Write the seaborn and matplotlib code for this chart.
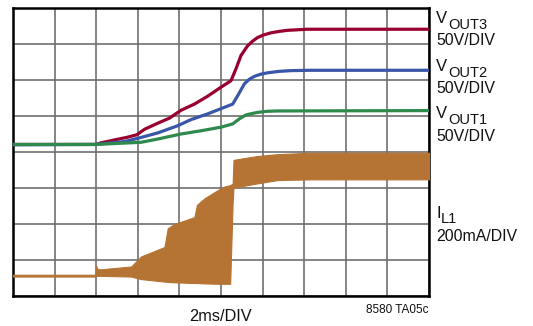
import numpy as np
import pandas as pd
import matplotlib
matplotlib.use("Agg")
import matplotlib.pyplot as plt
import seaborn as sns
from matplotlib import font_manager

# ---------------- data (divisions) ----------------
t_v3 = [0, 2.0, 2.1, 2.5, 2.75, 2.98, 3.16, 3.48, 3.76, 4.04, 4.36, 4.68, 5.0, 5.24, 5.36, 5.48, 5.64, 5.76, 5.88, 6.02, 6.2, 6.4, 6.6, 7.08, 10]
v3 = [4.21, 4.21, 4.25, 4.35, 4.41, 4.48, 4.63, 4.8, 4.94, 5.16, 5.33, 5.55, 5.8, 5.98, 6.31, 6.68, 6.95, 7.08, 7.18, 7.25, 7.31, 7.35, 7.38, 7.41, 7.41]

t_v2 = [0, 2.0, 2.68, 3.0, 3.48, 3.96, 4.28, 4.68, 5.08, 5.28, 5.4, 5.56, 5.68, 5.8, 5.95, 6.12, 6.4, 6.68, 7.16, 10]
v2 = [4.2, 4.21, 4.29, 4.38, 4.53, 4.73, 4.9, 5.06, 5.24, 5.33, 5.56, 5.89, 6.02, 6.1, 6.16, 6.2, 6.24, 6.26, 6.27, 6.27]

t_v1 = [0, 2.0, 3.08, 3.48, 4.04, 4.52, 5.0, 5.28, 5.44, 5.6, 5.75, 5.88, 6.1, 6.36, 10]
v1 = [4.21, 4.21, 4.27, 4.36, 4.5, 4.59, 4.69, 4.78, 4.92, 5.03, 5.07, 5.1, 5.13, 5.14, 5.15]

t_il = [0, 1.99, 2.0, 2.03, 2.1, 2.84, 3.08, 3.64, 3.72, 3.88, 4.36, 4.42, 4.6, 4.92, 5.08, 5.22, 5.28, 5.3, 5.5, 5.88, 6.36, 7.16, 10]
il_hi = [0.59, 0.59, 0.84, 0.75, 0.74, 0.82, 1.1, 1.36, 1.88, 2.0, 2.19, 2.53, 2.71, 2.94, 3.04, 3.08, 3.12, 3.78, 3.82, 3.89, 3.94, 3.98, 3.98]
il_lo = [0.54, 0.54, 0.56, 0.56, 0.56, 0.54, 0.47, 0.4, 0.39, 0.38, 0.36, 0.36, 0.35, 0.34, 0.34, 0.34, 2.6, 3.0, 3.05, 3.13, 3.22, 3.24, 3.24]

series_names = ["VOUT3", "VOUT2", "VOUT1"]
colors = {"VOUT3": "#990030", "VOUT2": "#3a56a8", "VOUT1": "#2e8a4c"}
il_color = "#b57433"

# ---------------- fonts ----------------
sns.set_style("white")
names = {f.name for f in font_manager.fontManager.ttflist}
main_font = "Liberation Sans" if "Liberation Sans" in names else "DejaVu Sans"
narrow_font = "Liberation Sans Narrow" if "Liberation Sans Narrow" in names else main_font
plt.rcParams["font.family"] = [main_font, "DejaVu Sans"]

W, H = 533, 326
fig = plt.figure(figsize=(W / 100, H / 100), dpi=100)
ax = fig.add_axes([13 / W, 1 - 296 / H, 416 / W, 288 / H])

df = pd.concat([
    pd.DataFrame({"t": t_v3, "v": v3, "s": "VOUT3"}),
    pd.DataFrame({"t": t_v2, "v": v2, "s": "VOUT2"}),
    pd.DataFrame({"t": t_v1, "v": v1, "s": "VOUT1"}),
], ignore_index=True)

ax.fill_between(t_il, il_lo, il_hi, color=il_color, linewidth=0.8, edgecolor=il_color, zorder=3)
sns.lineplot(data=df, x="t", y="v", hue="s", hue_order=series_names, palette=colors,
             estimator=None, legend=False, linewidth=2.3, ax=ax, zorder=4)
for line in ax.get_lines():
    line.set_solid_joinstyle("round")
    line.set_solid_capstyle("round")

ax.set_xlim(0, 10)
ax.set_ylim(0, 8)
ax.set_xticks(range(11))
ax.set_yticks(range(9))
ax.set_xticklabels([])
ax.set_yticklabels([])
ax.tick_params(length=0)
ax.set_xlabel("")
ax.set_ylabel("")
ax.grid(True, color="#707070", linewidth=1.2)
ax.set_axisbelow(True)
for sp in ax.spines.values():
    sp.set_visible(True)
    sp.set_color("black")
    sp.set_linewidth(1.8)


def ptext(x, y, s, size, **kw):
    fig.text(x / W, 1 - y / H, s, fontsize=size, va="baseline", color="#111111", **kw)


labels = [("OUT3", 23, 29, 45), ("OUT2", 71, 76.7, 93), ("OUT1", 118, 124, 141)]
for sub, yb, ysb, y2 in labels:
    ptext(436, yb, "V", 12)
    ptext(448, ysb, sub, 10.5)
    ptext(436, y2, "50V/DIV", 11.4)

ptext(436, 218, "I", 12)
ptext(441, 223, "L1", 10.5)
ptext(436, 240.7, "200mA/DIV", 11.4)
ptext(220.5, 320.7, "2ms/DIV", 11.8, ha="center")
fig.text(428 / W, 1 - 313 / H, "8580 TA05c", fontsize=8.5, va="baseline", ha="right",
         color="#111111", family=[narrow_font, "DejaVu Sans"])

fig.savefig("out.png", dpi=100)
